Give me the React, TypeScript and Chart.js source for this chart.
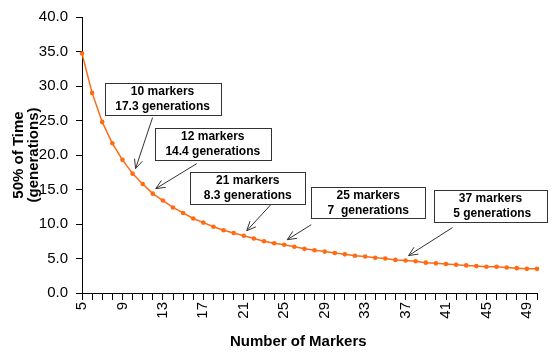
import React, { useEffect, useRef } from "react";
import { Chart, registerables } from "chart.js";

Chart.register(...registerables);

const markers: string[] = [
  "5", "6", "7", "8", "9", "10", "11", "12", "13", "14", "15", "16", "17", "18", "19", "20",
  "21", "22", "23", "24", "25", "26", "27", "28", "29", "30", "31", "32", "33", "34", "35",
  "36", "37", "38", "39", "40", "41", "42", "43", "44", "45", "46", "47", "48", "49", "50",
];

const timeValues: number[] = [
  34.7, 29.0, 24.8, 21.7, 19.3, 17.3, 15.8, 14.4, 13.4, 12.4, 11.6, 10.8, 10.2, 9.6, 9.1, 8.7,
  8.3, 7.9, 7.5, 7.2, 7.0, 6.7, 6.4, 6.2, 6.0, 5.8, 5.6, 5.4, 5.3, 5.1, 5.0,
  4.8, 4.7, 4.6, 4.4, 4.3, 4.2, 4.1, 4.0, 3.9, 3.8, 3.8, 3.7, 3.6, 3.5, 3.5,
];

const shownXTicks: string[] = ["5", "9", "13", "17", "21", "25", "29", "33", "37", "41", "45", "49"];

const xTitle = "Number of Markers";
const yTitle: string[] = ["50% of Time", "(generations)"];

const noteMarkers: string[] = ["10", "12", "21", "25", "37"];
const noteLine1: string[] = ["10 markers", "12 markers", "21 markers", "25 markers", "37 markers"];
const noteLine2: string[] = ["17.3 generations", "14.4 generations", "8.3 generations", "7  generations", " 5 generations"];

// layout of annotation boxes relative to their target point (pixels)
const noteLayout = [
  { bx: 30, by: -75, w: 116, h: 32, tx: 20, ty: -56 },
  { bx: 60, by: -50, w: 116, h: 32, tx: 44, ty: -30 },
  { bx: 4, by: -48, w: 115, h: 32, tx: 27, ty: -31 },
  { bx: 84, by: -42, w: 114, h: 31, tx: 27, ty: -20 },
  { bx: 85, by: -55, w: 113, h: 32, tx: 47, ty: -33 },
];

const FONT = "'Liberation Sans', Arial, Helvetica, sans-serif";

const notesPlugin = {
  id: "notes",
  afterDatasetsDraw(chart: any) {
    const ctx = chart.ctx;
    const xs = chart.scales.x;
    const ys = chart.scales.y;
    const area = chart.chartArea;

    ctx.save();
    ctx.fillStyle = "#000000";
    ctx.font = `bold 15px ${FONT}`;
    ctx.textAlign = "center";
    ctx.textBaseline = "middle";
    ctx.fillText(xTitle, area.left + (area.right - area.left) * 0.35 + 57, area.bottom + 49);
    ctx.translate(19, (area.top + area.bottom) / 2);
    ctx.rotate(-Math.PI / 2);
    ctx.fillText(yTitle[0], 0, 0);
    ctx.fillText(yTitle[1], 0, 15);
    ctx.restore();

    noteMarkers.forEach((m, i) => {
      const idx = markers.indexOf(m);
      const px = xs.getPixelForValue(idx);
      const py = ys.getPixelForValue(timeValues[idx]);
      const L = noteLayout[i];
      const tipX = px + 3;
      const tipY = py - 5;
      const tailX = px + L.tx;
      const tailY = py + L.ty;
      ctx.save();
      ctx.strokeStyle = "#333333";
      ctx.lineWidth = 1;
      ctx.beginPath();
      ctx.moveTo(tailX, tailY);
      ctx.lineTo(tipX, tipY);
      const ang = Math.atan2(tipY - tailY, tipX - tailX);
      const hl = 10;
      const ha = 0.42;
      ctx.moveTo(tipX - hl * Math.cos(ang - ha), tipY - hl * Math.sin(ang - ha));
      ctx.lineTo(tipX, tipY);
      ctx.lineTo(tipX - hl * Math.cos(ang + ha), tipY - hl * Math.sin(ang + ha));
      ctx.stroke();
      const cx = px + L.bx;
      const cy = py + L.by;
      const left = Math.round(cx - L.w / 2) + 0.5;
      const top = Math.round(cy - L.h / 2) + 0.5;
      ctx.fillStyle = "#ffffff";
      ctx.fillRect(left, top, L.w, L.h);
      ctx.strokeStyle = "#333333";
      ctx.strokeRect(left, top, L.w, L.h);
      ctx.fillStyle = "#000000";
      ctx.font = `bold 12px ${FONT}`;
      ctx.textAlign = "center";
      ctx.textBaseline = "middle";
      ctx.fillText(noteLine1[i], cx, cy - 7);
      ctx.fillText(noteLine2[i], cx, cy + 8);
      ctx.restore();
    });
  },
};

export default function App() {
  const ref = useRef<HTMLCanvasElement | null>(null);
  useEffect(() => {
    if (!ref.current) return;
    Chart.defaults.font.family = FONT;
    const chart = new Chart(ref.current, {
      type: "line",
      data: {
        labels: markers,
        datasets: [
          {
            data: timeValues,
            borderColor: "#FF6A13",
            backgroundColor: "#FF6A13",
            borderWidth: 1.5,
            pointRadius: 2.3,
            pointBorderWidth: 0,
            pointBackgroundColor: "#FF6A13",
            tension: 0,
            fill: false,
          },
        ],
      },
      options: {
        animation: false,
        responsive: false,
        maintainAspectRatio: false,
        layout: { padding: { left: 0, right: 14, top: 15, bottom: 0 } },
        plugins: { legend: { display: false }, tooltip: { enabled: false } },
        scales: {
          x: {
            type: "category",
            offset: false,
            grid: {
              display: true,
              drawOnChartArea: false,
              drawTicks: true,
              tickLength: 7,
              color: "#000000",
              tickColor: "#000000",
              offset: false,
            },
            border: { display: true, color: "#000000", width: 1 },
            ticks: {
              autoSkip: false,
              maxRotation: 90,
              minRotation: 90,
              padding: 2,
              color: "#000000",
              font: { size: 15 },
              callback: (_v: any, i: number) => (shownXTicks.includes(markers[i]) ? markers[i] : ""),
            },
            title: { display: false },
            afterFit: (s: any) => {
              s.height = 61;
            },
          },
          y: {
            min: 0,
            max: 40,
            grid: {
              display: true,
              drawOnChartArea: false,
              drawTicks: true,
              tickLength: 6,
              color: "#000000",
              tickColor: "#000000",
            },
            border: { display: true, color: "#000000", width: 1 },
            ticks: {
              stepSize: 5,
              padding: 8,
              color: "#000000",
              font: { size: 15 },
              callback: (v: any) => Number(v).toFixed(1),
            },
            title: { display: false },
            afterFit: (s: any) => {
              s.width = 82;
            },
          },
        },
      },
      plugins: [notesPlugin],
    } as any);
    return () => chart.destroy();
  }, []);
  return (
    <div style={{ position: "fixed", left: 0, top: 0, width: 557, height: 354, background: "#ffffff" }}>
      <canvas ref={ref} width={557} height={354} style={{ width: 557, height: 354, display: "block" }} />
    </div>
  );
}
